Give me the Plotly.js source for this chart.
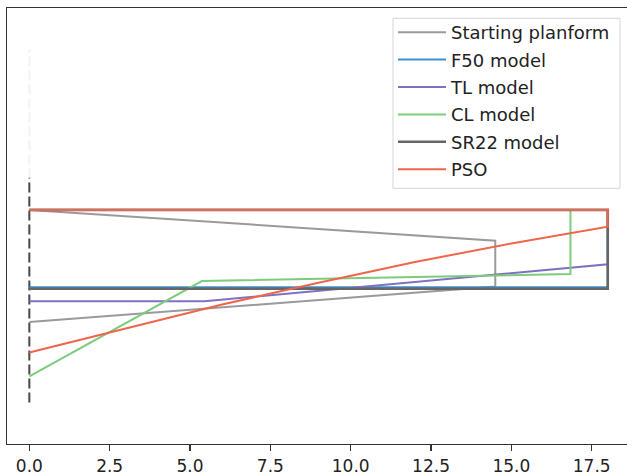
<!DOCTYPE html>
<html>
<head>
<meta charset="utf-8">
<script src="https://cdn.plot.ly/plotly-3.0.1.min.js"></script>
<style>
html,body{margin:0;padding:0;overflow:hidden;background:#fff;}
#chart{width:628px;height:475px;}
</style>
</head>
<body>
<div id="chart"></div>
<script>
// Planform outlines: spanwise position (x) and chordwise position (y, leading edge at 0)
const seriesNames = ["Starting planform", "F50 model", "TL model", "CL model", "SR22 model", "PSO"];

const startX = [0, 14.5, 14.5, 0];
const startY = [0, -0.955, -2.38, -3.48];

const f50X = [0, 18, 18, 0];
const f50Y = [0, 0, -2.40, -2.40];

const tlX = [0, 18, 18, 5.45, 0];
const tlY = [0, 0, -1.69, -2.84, -2.84];

const clX = [0, 16.84, 16.84, 5.37, 0];
const clY = [0, 0, -1.99, -2.21, -5.17];

const sr22X = [0, 18, 18, 0];
const sr22Y = [0, 0, -2.45, -2.45];

const psoX = [0, 18, 18, 15, 12, 9, 6, 3, 0];
const psoY = [0, 0, -0.52, -1.04, -1.62, -2.26, -2.94, -3.69, -4.43];

// Root (symmetry) reference lines at x = 0
const rootLineX = [0, 0];
const rootFaintY = [-5.98, 4.98];
const rootDarkY = [-5.98, 1.0];

const xTicks = [0, 2.5, 5, 7.5, 10, 12.5, 15, 17.5];
const xTickText = ["0.0", "2.5", "5.0", "7.5", "10.0", "12.5", "15.0", "17.5"];

const colors = ["#9a9a9a", "#3d8fcf", "#7d72c2", "#7dcb7d", "#666666", "#f0644a"];
const xs = [startX, f50X, tlX, clX, sr22X, psoX];
const ys = [startY, f50Y, tlY, clY, sr22Y, psoY];
const widths = [2, 2, 2, 2, 2.6, 2];

const traces = [
  {x: rootLineX, y: rootFaintY, mode: "lines", showlegend: false, hoverinfo: "skip",
   line: {color: "rgba(210,218,240,0.35)", width: 2, dash: "10px,4px"}},
  {x: rootLineX, y: rootDarkY, mode: "lines", showlegend: false, hoverinfo: "skip",
   line: {color: "#4a4a4a", width: 2, dash: "10px,4px"}}
];
for (let i = 0; i < seriesNames.length; i++) {
  traces.push({
    x: xs[i], y: ys[i], mode: "lines", name: seriesNames[i],
    legendgroup: "g" + i,
    line: {color: colors[i], width: widths[i]}
  });
}

const plotL = 7, plotW = 621, plotB = 444, plotH = 436;
const px = v => (v - plotL) / plotW;
const py = v => (plotB - v) / plotH;

const layout = {
  width: 628, height: 475,
  margin: {l: 7, r: 0, t: 8, b: 31},
  paper_bgcolor: "#fff", plot_bgcolor: "#fff",
  font: {family: "DejaVu Sans", size: 17, color: "#222"},
  showlegend: true,
  legend: {
    x: px(393), xanchor: "left", y: py(14), yanchor: "top",
    bgcolor: "rgba(0,0,0,0)", borderwidth: 0,
    font: {family: "DejaVu Sans", size: 18, color: "#222"},
    tracegroupgap: 1, itemwidth: 48
  },
  shapes: [{
    type: "rect", xref: "paper", yref: "paper",
    x0: px(393), x1: px(620), y0: py(188.3), y1: py(18.3),
    line: {color: "#d5d5d5", width: 1}, fillcolor: "rgba(255,255,255,0.9)", layer: "above"
  }],
  xaxis: {
    range: [-0.695, 18.63], showgrid: false, zeroline: false,
    tickvals: xTicks, ticktext: xTickText,
    ticks: "outside", ticklen: 6, tickwidth: 1.2, tickcolor: "#333",
    showline: true, linecolor: "#333", linewidth: 1.3, mirror: true,
    tickfont: {family: "DejaVu Sans", size: 17, color: "#222"}
  },
  yaxis: {
    range: [-7.27, 6.27], showgrid: false, zeroline: false,
    showticklabels: false, ticks: "",
    showline: true, linecolor: "#333", linewidth: 1.3, mirror: true
  }
};

Plotly.newPlot("chart", traces, layout, {displayModeBar: false, staticPlot: true});
</script>
</body>
</html>
